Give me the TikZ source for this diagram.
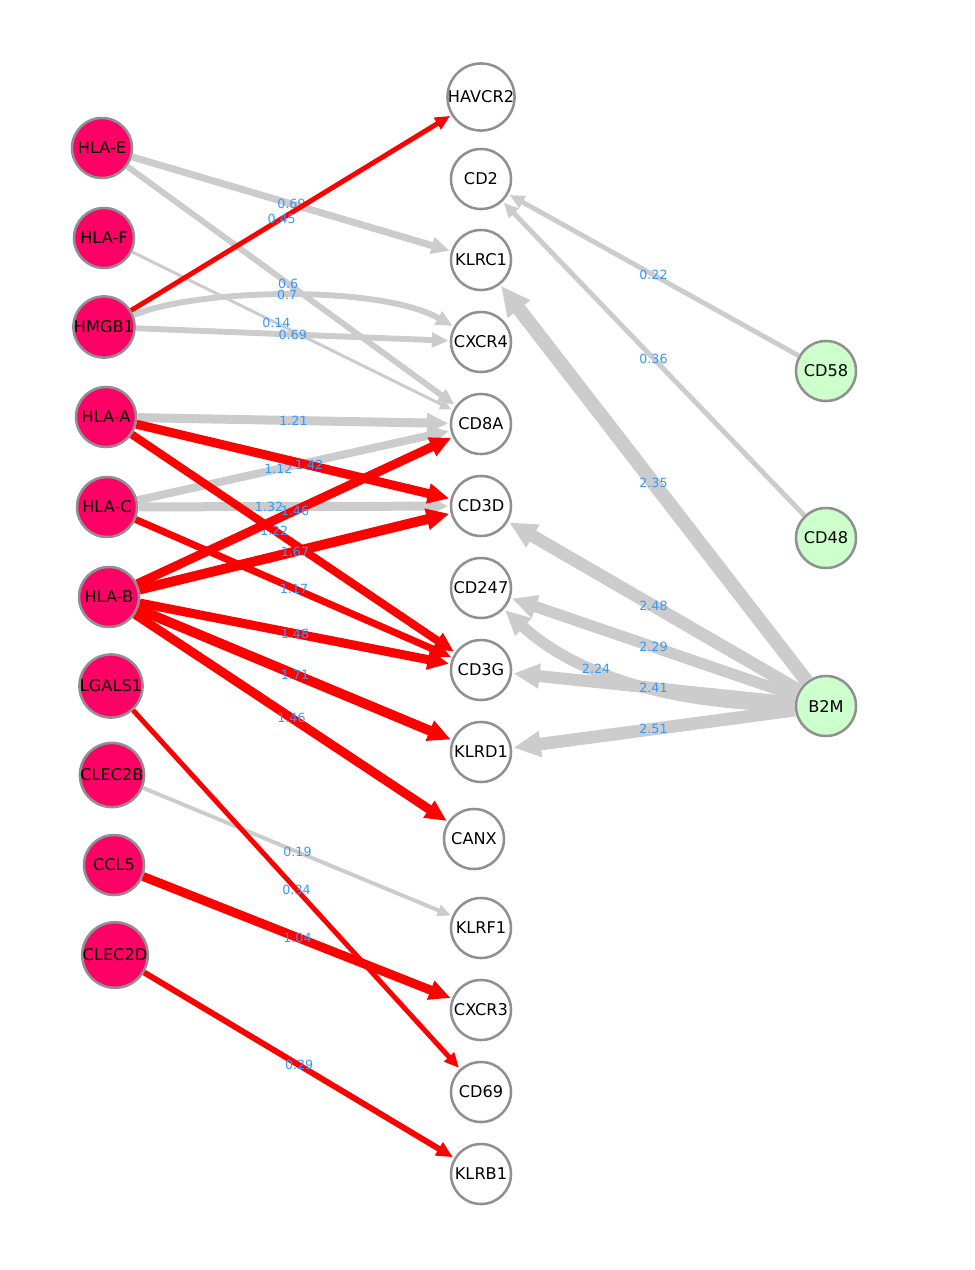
\documentclass[tikz,border=0pt]{standalone}
\usepackage{fontspec}
\usepackage{xcolor}
\usetikzlibrary{arrows.meta}
\newfontfamily\genefont{DejaVu Sans}
\definecolor{ligandpink}{RGB}{255,0,102}
\definecolor{partnergreen}{RGB}{204,255,204}
\definecolor{ringgray}{RGB}{144,144,144}
\definecolor{edgegray}{RGB}{204,204,204}
\definecolor{edgered}{RGB}{255,0,0}
\definecolor{labelblue}{RGB}{51,153,255}
\tikzset{
  gene/.style={circle, draw=ringgray, line width=1.8pt, minimum size=1.5cm,
               inner sep=0pt, font=\genefont\fontsize{11.5}{13}\selectfont},
  ligand/.style={gene, fill=ligandpink},
  receptor/.style={gene, fill=white},
  partner/.style={gene, fill=partnergreen},
  link/.style={-{Triangle[length=5pt 1.6, width=4pt 1.5]}, shorten >=1pt},
  grey/.style={link, draw=edgegray},
  hot/.style={link, draw=edgered},
  wlab/.style={text=labelblue, font=\genefont\fontsize{9}{10}\selectfont, inner sep=0pt},
}

\begin{document}
\begin{tikzpicture}[x=0.025cm, y=-0.025cm]
  \useasboundingbox (0,0) rectangle (974,1270);
  % ligands
  \node[ligand] (HLAE)   at (102,148) {HLA-E};
  \node[ligand] (HLAF)   at (104,238) {HLA-F};
  \node[ligand] (HMGB1)  at (104,327) {HMGB1};
  \node[ligand] (HLAA)   at (106,417) {HLA-A};
  \node[ligand] (HLAC)   at (107,507) {HLA-C};
  \node[ligand] (HLAB)   at (109,597) {HLA-B};
  \node[ligand] (LGALS1) at (111,686) {LGALS1};
  \node[ligand] (CLEC2B) at (112,775) {CLEC2B};
  \node[ligand] (CCL5)   at (114,865) {CCL5};
  \node[ligand] (CLEC2D) at (115,955) {CLEC2D};
  % receptors
  \node[receptor] (HAVCR2) at (481,97)   {HAVCR2};
  \node[receptor] (CD2)    at (481,179)  {CD2};
  \node[receptor] (KLRC1)  at (481,260)  {KLRC1};
  \node[receptor] (CXCR4)  at (481,342)  {CXCR4};
  \node[receptor] (CD8A)   at (481,424)  {CD8A};
  \node[receptor] (CD3D)   at (481,506)  {CD3D};
  \node[receptor] (CD247)  at (481,588)  {CD247};
  \node[receptor] (CD3G)   at (481,670)  {CD3G};
  \node[receptor] (KLRD1)  at (481,752)  {KLRD1};
  \node[receptor] (CANX)   at (474,839)  {CANX};
  \node[receptor] (KLRF1)  at (481,928)  {KLRF1};
  \node[receptor] (CXCR3)  at (481,1010) {CXCR3};
  \node[receptor] (CD69)   at (481,1092) {CD69};
  \node[receptor] (KLRB1)  at (481,1174) {KLRB1};
  % right side
  \node[partner] (CD58) at (826,371) {CD58};
  \node[partner] (CD48) at (826,538) {CD48};
  \node[partner] (B2M)  at (826,706) {B2M};

  \draw[grey, line width=5pt]   (HLAE) -- node[wlab]{0.69} (KLRC1);
  \draw[grey, line width=4.2pt] (HLAE) -- node[wlab, pos=0.49]{0.6} (CD8A);
  \draw[grey, line width=2.1pt] (HLAF) -- node[wlab, pos=0.45]{0.14} (CD8A);
  \draw[hot, line width=3.5pt]  (HMGB1) -- node[wlab, pos=0.47]{0.45} (HAVCR2);
  \draw[grey, line width=4.2pt] (HMGB1) .. controls (200,288) and (380,285) .. node[wlab, pos=0.49]{0.7} (CXCR4);
  \draw[grey, line width=4.2pt] (HMGB1) -- node[wlab]{0.69} (CXCR4);
  \draw[grey, line width=6.4pt] (HLAA) -- node[wlab]{1.21} (CD8A);
  \draw[grey, line width=5.7pt] (HLAC) -- node[wlab, pos=0.45]{1.12} (CD8A);
  \draw[grey, line width=6.4pt] (HLAC) -- node[wlab, pos=0.42]{1.32} (CD3D);
  \draw[hot, line width=6.4pt]  (HLAA) -- node[wlab, pos=0.55]{1.42} (CD3D);
  \draw[hot, line width=5.7pt]  (HLAA) -- node[wlab, pos=0.44]{1.22} (CD3G);
  \draw[hot, line width=5pt]    (HLAC) -- node[wlab]{1.17} (CD3G);
  \draw[hot, line width=6.4pt]  (HLAB) -- node[wlab]{1.46} (CD8A);
  \draw[hot, line width=7pt]    (HLAB) -- node[wlab]{1.67} (CD3D);
  \draw[hot, line width=6.4pt]  (HLAB) -- node[wlab]{1.48} (CD3G);
  \draw[hot, line width=7pt]    (HLAB) -- node[wlab]{1.71} (KLRD1);
  \draw[hot, line width=6.4pt]  (HLAB) -- node[wlab]{1.46} (CANX);
  \draw[grey, line width=2.8pt] (CLEC2B) -- node[wlab]{0.19} (KLRF1);
  \draw[hot, line width=3.5pt]  (LGALS1) -- node[wlab]{0.34} (CD69);
  \draw[hot, line width=6.4pt]  (CCL5) -- node[wlab]{1.04} (CXCR3);
  \draw[hot, line width=4.2pt]  (CLEC2D) -- node[wlab]{0.29} (KLRB1);

  \draw[grey, line width=3.5pt] (CD58) -- node[wlab]{0.22} (CD2);
  \draw[grey, line width=3.5pt] (CD48) -- node[wlab]{0.36} (CD2);
  \draw[grey, line width=10pt]  (B2M) -- node[wlab]{2.35} (KLRC1);
  \draw[grey, line width=8pt]   (B2M) .. controls (660,705) and (570,670) .. node[wlab, pos=0.6]{2.24} (CD247);
  \draw[grey, line width=9pt]   (B2M) -- node[wlab]{2.48} (CD3D);
  \draw[grey, line width=8pt]   (B2M) -- node[wlab]{2.29} (CD247);
  \draw[grey, line width=8.5pt] (B2M) -- node[wlab]{2.41} (CD3G);
  \draw[grey, line width=9pt]   (B2M) -- node[wlab]{2.51} (KLRD1);
\end{tikzpicture}
\end{document}
